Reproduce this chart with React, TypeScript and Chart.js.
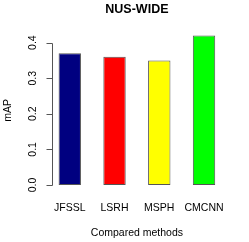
import React, { useEffect, useRef } from "react";
import { Chart, registerables } from "chart.js";

Chart.register(...registerables);

const chartTitle = "NUS-WIDE";
const xTitle = "Compared methods";
const yTitle = "mAP";
const methods = ["JFSSL", "LSRH", "MSPH", "CMCNN"];
const mapValues = [0.37, 0.36, 0.35, 0.42];
const barColors = ["#000080", "#FF0000", "#FFFF00", "#00FF00"];
const yTicks = [0, 0.1, 0.2, 0.3, 0.4];
const yTickLabels = ["0.0", "0.1", "0.2", "0.3", "0.4"];

const FONT = '"Liberation Sans", Arial, Helvetica, sans-serif';

const rAxisPlugin = {
  id: "rAxis",
  afterDraw(chart: any) {
    const { ctx, chartArea, scales } = chart;
    const y = scales.y;
    const x = scales.x;
    const step = x.getPixelForValue(1) - x.getPixelForValue(0);
    const axisX = x.getPixelForValue(0) - 0.39 * step;
    const x0 = Math.round(axisX) + 0.5;
    ctx.save();
    ctx.strokeStyle = "#555";
    ctx.lineWidth = 1;
    ctx.beginPath();
    const top = Math.round(y.getPixelForValue(yTicks[yTicks.length - 1])) + 0.5;
    const bot = Math.round(y.getPixelForValue(yTicks[0])) + 0.5;
    ctx.moveTo(x0, top);
    ctx.lineTo(x0, bot);
    yTicks.forEach((v) => {
      const py = Math.round(y.getPixelForValue(v)) + 0.5;
      ctx.moveTo(x0 - 6, py);
      ctx.lineTo(x0, py);
    });
    ctx.stroke();
    ctx.fillStyle = "#000";
    ctx.font = "10.5px " + FONT;
    ctx.textAlign = "center";
    ctx.textBaseline = "middle";
    yTicks.forEach((v, i) => {
      const py = y.getPixelForValue(v);
      ctx.save();
      ctx.translate(axisX - 19.5, py);
      ctx.rotate(-Math.PI / 2);
      ctx.fillText(yTickLabels[i], 0, 0);
      ctx.restore();
    });
    ctx.save();
    ctx.translate(8, (chartArea.top + chartArea.bottom) / 2);
    ctx.rotate(-Math.PI / 2);
    ctx.fillText(yTitle, 0, 0);
    ctx.restore();
    ctx.restore();
  },
};

export default function App() {
  const ref = useRef<HTMLCanvasElement>(null);
  useEffect(() => {
    if (!ref.current) return;
    const chart = new Chart(ref.current, {
      type: "bar",
      data: {
        labels: methods,
        datasets: [
          {
            data: mapValues,
            backgroundColor: barColors,
            borderColor: "#555",
            borderWidth: 1,
            borderSkipped: false,
            barPercentage: 0.5,
            categoryPercentage: 1,
          },
        ],
      },
      options: {
        animation: false,
        responsive: false,
        devicePixelRatio: 1,
        layout: { padding: { left: 47.4, right: 22.6, top: 0, bottom: 0 } },
        plugins: {
          legend: { display: false },
          tooltip: { enabled: false },
          title: {
            display: true,
            text: chartTitle,
            color: "#000",
            font: { family: FONT, size: 12.5, weight: "bold" },
            padding: { top: 2.5, bottom: 12 },
          },
        },
        scales: {
          x: {
            grid: { display: false, drawTicks: false },
            border: { display: false },
            afterFit: (scale: any) => {
              scale.height = 51;
            },
            ticks: {
              autoSkip: false,
              maxRotation: 0,
              minRotation: 0,
              padding: 11,
              color: "#000",
              font: { family: FONT, size: 10.5 },
            },
            title: {
              display: true,
              text: xTitle,
              color: "#000",
              font: { family: FONT, size: 10.5 },
              padding: { top: 0, bottom: 3 },
            },
          },
          y: {
            display: false,
            min: -0.0168,
            max: 0.4368,
          },
        },
      },
      plugins: [rAxisPlugin],
    });
    return () => chart.destroy();
  }, []);
  return (
    <div style={{ position: "fixed", left: 0, top: 0, width: 249, height: 242, background: "#fff" }}>
      <canvas ref={ref} width={249} height={242} />
    </div>
  );
}
